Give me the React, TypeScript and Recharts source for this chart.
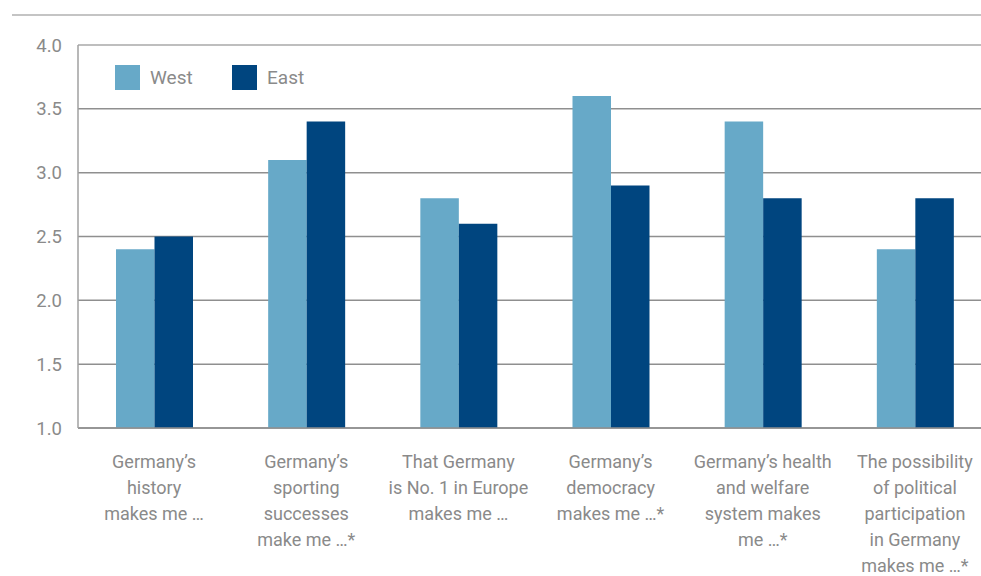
import { BarChart, Bar, XAxis, YAxis, CartesianGrid, ReferenceLine } from "recharts";

const categories = ["history", "sporting", "europe", "democracy", "health", "participation"];
const labelLines = [
  ["Germany’s", "history", "makes me …"],
  ["Germany’s", "sporting", "successes", "make me …*"],
  ["That Germany", "is No. 1 in Europe", "makes me …"],
  ["Germany’s", "democracy", "makes me …*"],
  ["Germany’s health", "and welfare", "system makes", "me …*"],
  ["The possibility", "of political", "participation", "in Germany", "makes me …*"],
];
const west = [2.4, 3.1, 2.8, 3.6, 3.4, 2.4];
const east = [2.5, 3.4, 2.6, 2.9, 2.8, 2.8];
const yTicks = [1, 1.5, 2, 2.5, 3, 3.5, 4];
const seriesNames = ["West", "East"];

const data = categories.map((c, i) => ({ key: c, West: west[i], East: east[i] }));

const FONT = "Roboto, 'Noto Sans', sans-serif";
const GREY = "#8a8a8a";
const colors: Record<string, string> = { West: "#67a9c8", East: "#00457f" };

function CategoryTick(props: any) {
  const { x, y, payload } = props;
  const lines = labelLines[payload.index] || [];
  return (
    <text x={x} y={y} textAnchor="middle" fill={GREY} fontSize={18} fontFamily={FONT}>
      {lines.map((l, i) => (
        <tspan key={i} x={x} dy={i === 0 ? 32 : 26}>{l}</tspan>
      ))}
    </text>
  );
}

export default function App() {
  return (
    <div style={{ position: "absolute", left: 0, top: 0, width: 981, height: 576, overflow: "hidden", background: "#fff" }}>
      <div style={{ position: "absolute", left: 12, right: 0, top: 14, height: 2, background: "#c4c4c4" }} />
      <BarChart
        width={991}
        height={576}
        data={data}
        margin={{ top: 45, right: 0, left: 0, bottom: 0 }}
        barSize={38.5}
        barGap={0}
      >
        <CartesianGrid vertical={false} stroke="#8f8f8f" strokeWidth={1.5} />
        <ReferenceLine y={4} stroke="#c4c4c4" strokeWidth={1.5} />
        <XAxis
          dataKey="key"
          height={148}
          axisLine={{ stroke: "#8f8f8f", strokeWidth: 1.5 }}
          tickLine={false}
          tick={<CategoryTick />}
          interval={0}
        />
        <YAxis
          domain={[1, 4]}
          ticks={yTicks}
          width={78}
          tickSize={0}
          tickMargin={16}
          tickLine={false}
          axisLine={{ stroke: "#a0a0a0", strokeWidth: 1.5 }}
          tickFormatter={(v: number) => v.toFixed(1)}
          tick={{ fill: GREY, fontSize: 18.5, fontFamily: FONT }}
          allowDataOverflow
        />
        <Bar dataKey="West" fill={colors.West} isAnimationActive={false} />
        <Bar dataKey="East" fill={colors.East} isAnimationActive={false} />
      </BarChart>
      <div style={{ position: "absolute", left: 115, top: 65, display: "flex", fontFamily: FONT, fontSize: 19, color: GREY }}>
        {seriesNames.map((n) => (
          <div key={n} style={{ display: "flex", alignItems: "center", width: 117 }}>
            <div style={{ width: 25, height: 25, background: colors[n], marginRight: 10 }} />
            <span>{n}</span>
          </div>
        ))}
      </div>
    </div>
  );
}
